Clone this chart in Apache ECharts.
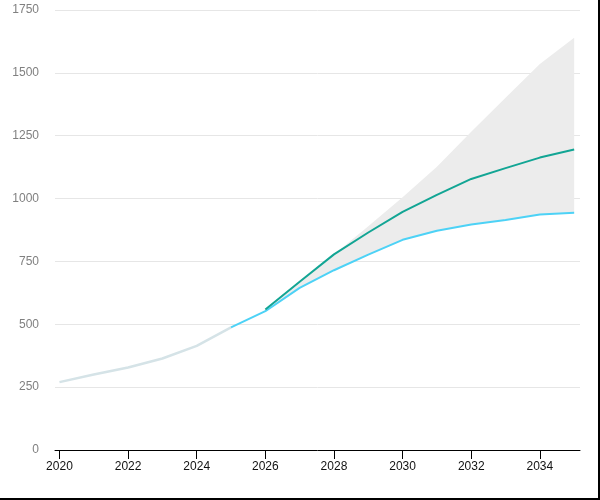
<!DOCTYPE html>
<html>
<head>
<meta charset="utf-8">
<script src="https://cdn.jsdelivr.net/npm/echarts@6/dist/echarts.min.js"></script>
<style>
  html, body { margin: 0; padding: 0; background: #fff; }
  #frame { width: 600px; height: 500px; box-sizing: border-box; border-right: 2px solid #000; border-bottom: 2px solid #000; }
  #chart { width: 600px; height: 500px; }
</style>
</head>
<body>
<div id="frame"><div id="chart"></div></div>
<script>
// 历史数据
var histYears = [2020, 2021, 2022, 2023, 2024, 2025];
var histValues = [270, 300, 328, 364, 414, 488];

// 预测（低/中/高）
var lowYears = [2025, 2026, 2027, 2028, 2029, 2030, 2031, 2032, 2033, 2034, 2035];
var lowValues = [488, 552, 645, 715, 777, 836, 872, 897, 915, 937, 944];

var midYears = [2026, 2027, 2028, 2029, 2030, 2031, 2032, 2033, 2034, 2035];
var midValues = [559, 669, 778, 865, 947, 1015, 1078, 1121, 1163, 1195];

var bandYears = [2026, 2027, 2028, 2029, 2030, 2031, 2032, 2033, 2034, 2035];
var bandLow = [552, 645, 715, 777, 836, 872, 897, 915, 937, 944];
var bandHigh = [559, 669, 778, 890, 1005, 1127, 1266, 1401, 1535, 1640];

var xTicks = [2020, 2022, 2024, 2026, 2028, 2030, 2032, 2034];

function pairs(xs, ys) {
	return xs.map(function (x, i) { return [x, ys[i]]; });
}

var myChart = echarts.init(document.getElementById('chart'));
var option = {
	animation: false,
	grid: { left: 55, right: 20, top: 10, bottom: 50 },
	xAxis: {
		type: 'value',
		min: 2019.87,
		max: 2035.17,
		splitLine: { show: false },
		axisLine: { show: true, lineStyle: { color: '#000', width: 1 } },
		axisTick: { show: true, length: 9, customValues: xTicks, lineStyle: { color: '#000' } },
		axisLabel: {
			customValues: xTicks,
			color: '#111',
			fontSize: 12,
			fontFamily: 'Liberation Sans, Arial, sans-serif',
			margin: 11,
			formatter: function (v) { return String(v); }
		}
	},
	yAxis: {
		type: 'value',
		min: 0,
		max: 1750,
		interval: 250,
		axisLine: { show: false },
		axisTick: { show: false },
		splitLine: { lineStyle: { color: '#e6e6e6', width: 1 } },
		axisLabel: {
			color: '#808080',
			fontSize: 12,
			fontFamily: 'Liberation Sans, Arial, sans-serif',
			margin: 16,
			padding: [3, 0, 0, 0],
			formatter: function (v) { return String(v); }
		}
	},
	series: [
		{
			// 不确定区间（灰色带）
			name: 'band',
			type: 'custom',
			silent: true,
			data: [[bandYears[0], bandLow[0]]],
			renderItem: function (params, api) {
				var pts = [];
				for (var i = 0; i < bandYears.length; i++) pts.push(api.coord([bandYears[i], bandHigh[i]]));
				for (var j = bandYears.length - 1; j >= 0; j--) pts.push(api.coord([bandYears[j], bandLow[j]]));
				return {
					type: 'polygon',
					shape: { points: pts },
					style: { fill: '#ececec', stroke: null }
				};
			}
		},
		{
			name: 'hist',
			type: 'line',
			symbol: 'none',
			lineStyle: { color: '#d5e3e7', width: 2.5 },
			data: pairs(histYears, histValues)
		},
		{
			name: 'low',
			type: 'line',
			symbol: 'none',
			lineStyle: { color: '#4dd2f6', width: 2 },
			data: pairs(lowYears, lowValues)
		},
		{
			name: 'mid',
			type: 'line',
			symbol: 'none',
			lineStyle: { color: '#12a594', width: 2 },
			data: pairs(midYears, midValues)
		}
	]
};
myChart.setOption(option);
</script>
</body>
</html>
